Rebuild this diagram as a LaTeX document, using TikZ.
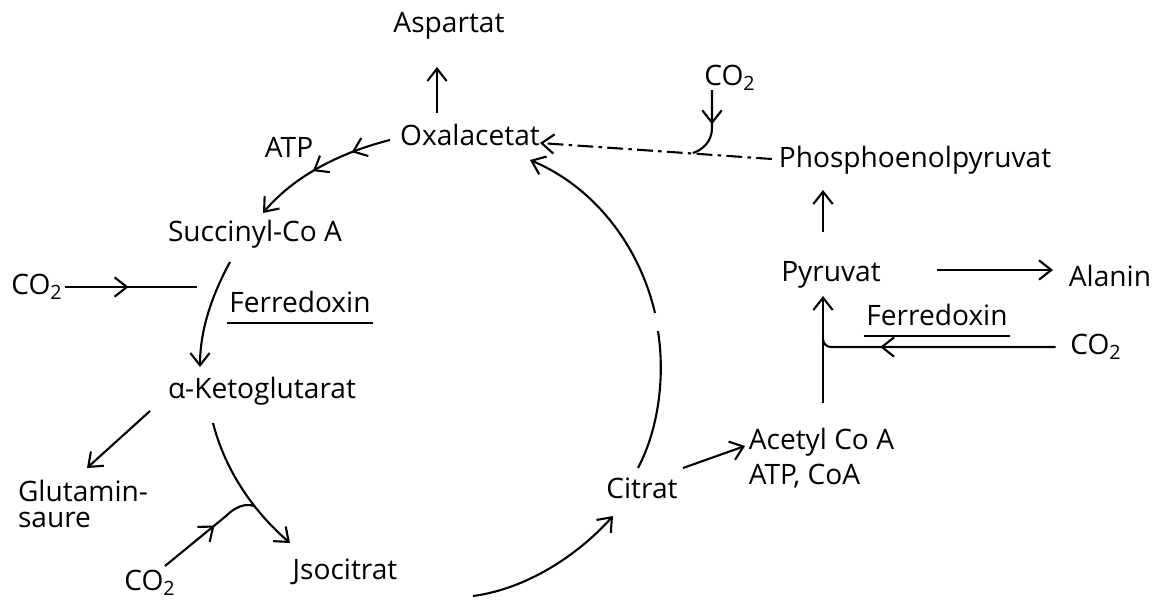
\documentclass[tikz,border=0pt]{standalone}
\usepackage{fontspec}
\setmainfont{Open Sans}
\usetikzlibrary{calc,arrows.meta,decorations.markings}
\tikzset{
every node/.style={font=\fontsize{16}{20}\selectfont,inner sep=1pt},
pfeil/.style={-{Straight Barb[length=7pt,width=11pt]}},
zwpfeil/.style={postaction={decorate,decoration={markings,mark=at position #1 with {\arrow{Straight Barb[length=7pt,width=11pt]}}}}},
unterstr/.style={inner ysep=5pt,append after command={(\tikzlastnode.south west) edge (\tikzlastnode.south east)}}
}
\begin{document}
\begin{tikzpicture}[x=0.02cm,y=-0.02cm,line width=1.2pt]
\useasboundingbox (0,0) rectangle (1165,605);
\node (asp) at (449,26) {Aspartat};
\node (oxa) at (470,135) {Oxalacetat};
\node (atp) at (289,147) {ATP};
\node (suc) at (255,234) {Succinyl-Co A};
\node (co2a) at (37,287) {CO\textsubscript{2}};
\node[unterstr] (fer1) at (300,302) {Ferredoxin};
\node (akg) at (262,391) {α-Ketoglutarat};
\node[align=left,font=\fontsize{16}{15}\selectfont] (glu) at (83,504) {Glutamin-\\saure};
\node (co2b) at (150,583) {CO\textsubscript{2}};
\node (iso) at (345,572) {Jsocitrat};
\node (cit) at (642,488) {Citrat};
\node[align=left,anchor=west] (acc) at (746,458) {Acetyl Co A\\ATP, CoA};
\node (pyr) at (831,275) {Pyruvat};
\node (ala) at (1110,276) {Alanin};
\node[unterstr] (fer2) at (937,315) {Ferredoxin};
\node (co2c) at (1096,347) {CO\textsubscript{2}};
\node (pep) at (915,160) {Phosphoenolpyruvat};
\node (co2d) at (730,78) {CO\textsubscript{2}};
\coordinate (ja) at (197,287);
\coordinate (jb) at (254,506);
\coordinate (jc) at (823,339);
\coordinate (jd) at (693,153);
\coordinate (lk) at (658,331);
\coordinate (lo) at (655,313);
\draw[pfeil] ($(oxa)+(-33,-22)$) -- ($(asp)+(-12,41)$);
\draw[pfeil,zwpfeil=0.27,zwpfeil=0.56] ($(oxa)+(-80,5)$) .. controls (342,152) and (295,175) .. ($(suc)+(8,-21)$);
\draw[zwpfeil=0.48] (co2a.east) -- (ja);
\draw[pfeil] ($(suc)+(-25,28)$) .. controls (212,295) and (200,330) .. ($(akg)+(-62,-24)$);
\draw[pfeil] ($(akg)+(-112,20)$) -- ($(glu)+(4,-36)$);
\draw[pfeil] ($(akg)+(-49,32)$) .. controls (225,470) and (253,511) .. ($(iso)+(-55,-29)$);
\draw[zwpfeil=0.58] ($(co2b)+(15,-17)$) -- (226,516) .. controls (235,507) and (245,503) .. (jb);
\draw[pfeil] ($(iso)+(128,24)$) .. controls (526,589) and (577,556) .. ($(cit)+(-29,28)$);
\draw ($(cit)+(-4,-20)$) .. controls (659,428) and (665,376) .. (lk);
\draw[pfeil] (lo) .. controls (639,245) and (594,187) .. ($(oxa)+(60,25)$);
\draw[pfeil] ($(cit)+(41,-20)$) -- ($(acc.west)+(-1,-12)$);
\draw[pfeil] ($(acc.west)+(77,-55)$) -- ($(pyr)+(-8,21)$);
\draw[pfeil] ($(pyr)+(106,-5)$) -- ($(ala)+(-57,-6)$);
\draw[zwpfeil=0.74] ($(co2c.west)+(-12,0)$) -- (831,347) to[out=180,in=-90] (jc);
\draw[pfeil] ($(pyr)+(-8,-43)$) -- ($(pep)+(-92,30)$);
\draw[pfeil,dash pattern=on 9pt off 3pt on 2pt off 3pt] ($(pep)+(-143,-1)$) -- ($(oxa)+(70,8)$);
\draw[zwpfeil=0.48] ($(co2d)+(-18,12)$) -- (712,128) .. controls (712,142) and (702,150) .. (jd);
\end{tikzpicture}
\end{document}
